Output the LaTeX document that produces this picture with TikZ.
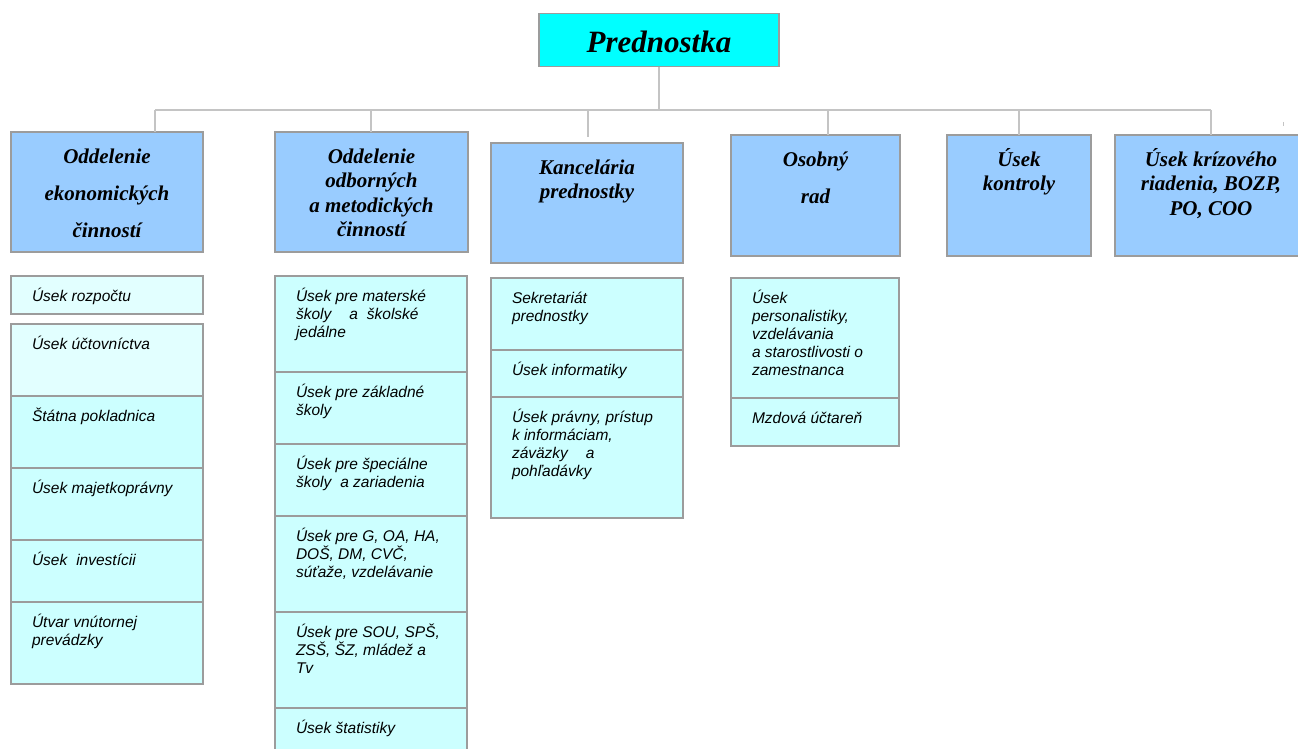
\documentclass[tikz,border=0pt]{standalone}
\usepackage{fontspec}
\setmainfont{Liberation Serif}
\setsansfont{Liberation Sans}

\definecolor{topcyan}{HTML}{00FFFF}
\definecolor{hdrblue}{HTML}{99CCFF}
\definecolor{subcyan}{HTML}{CCFFFF}
\definecolor{palecyan}{HTML}{E2FFFF}
\definecolor{framegray}{HTML}{9C9C9C}
\definecolor{wiregray}{HTML}{C4C4C4}

% box texts: width, height, lines
\newcommand{\hdrtext}[3]{\parbox[t][#2][t]{#1}{\centering\rule{0pt}{31pt}#3}}
\newcommand{\subtext}[3]{\parbox[t][#2][t]{#1}{\raggedright\leftskip=21pt\rule{0pt}{25pt}#3}}

\begin{document}
\begin{tikzpicture}[
		x=1pt,y=-1pt,
		topbox/.style={draw=framegray,fill=topcyan,line width=1.5pt,minimum width=240pt,minimum height=53pt,
			text height=26pt,text depth=0pt,font=\fontsize{31}{36}\selectfont\bfseries\itshape},
		hdr/.style={draw=framegray,fill=hdrblue,line width=1.5pt,inner sep=0pt,outer sep=0pt,anchor=north west,
			font=\fontsize{21}{24.5}\selectfont\bfseries\itshape},
		sub/.style={draw=framegray,fill=subcyan,line width=1.5pt,inner sep=0pt,outer sep=0pt,anchor=north west,
			font=\sffamily\itshape\fontsize{15.5}{18}\selectfont},
		wire/.style={draw=wiregray,line width=2pt},
	]
	\path[use as bounding box,clip] (0,0) rectangle (1298,749);

	\node[topbox] (pred) at (659,40) {Prednostka};

	% departments
	\node[hdr] (oek) at (11,132) {\hdrtext{192pt}{120pt}{Oddelenie\\[12.5pt]ekonomických\\[12.5pt]činností}};
	\node[hdr] (oodb) at (275,132) {\hdrtext{193pt}{120pt}{Oddelenie\\odborných\\a metodických\\činností}};
	\node[hdr] (kanc) at (491,143) {\hdrtext{192pt}{120pt}{Kancelária\\prednostky}};
	\node[hdr] (osob) at (731,135) {\hdrtext{169pt}{121pt}{Osobný\\[12.5pt]rad}};
	\node[hdr] (kontr) at (947,135) {\hdrtext{144pt}{121pt}{Úsek\\kontroly}};
	\node[hdr] (kriz) at (1115,135) {\hdrtext{192pt}{121pt}{Úsek krízového\\riadenia, BOZP,\\PO, COO}};

	% column 1
	\node[sub,fill=palecyan] (rozp) at (11,276) {\subtext{192pt}{38pt}{Úsek rozpočtu}};
	\node[sub,fill=palecyan] (uct) at (11,324) {\subtext{192pt}{72pt}{Úsek účtovníctva}};
	\node[sub] (pokl) at (uct.south west) {\subtext{192pt}{72pt}{Štátna pokladnica}};
	\node[sub] (maj) at (pokl.south west) {\subtext{192pt}{72pt}{Úsek majetkoprávny}};
	\node[sub] (inv) at (maj.south west) {\subtext{192pt}{62pt}{Úsek\hspace{9pt}investícii}};
	\node[sub] (utv) at (inv.south west) {\subtext{192pt}{82pt}{Útvar vnútornej\\prevádzky}};

	% column 2
	\node[sub] (ms) at (275,276) {\subtext{192pt}{96pt}{Úsek pre materské\\školy\hspace{18pt}a\hspace{9pt}školské\\jedálne}};
	\node[sub] (zs) at (ms.south west) {\subtext{192pt}{72pt}{Úsek pre základné\\školy}};
	\node[sub] (ss) at (zs.south west) {\subtext{192pt}{72pt}{Úsek pre špeciálne\\školy\hspace{9pt}a zariadenia}};
	\node[sub] (gym) at (ss.south west) {\subtext{192pt}{96pt}{Úsek pre G, OA, HA,\\DOŠ, DM, CVČ,\\súťaže, vzdelávanie}};
	\node[sub] (sou) at (gym.south west) {\subtext{192pt}{96pt}{Úsek pre SOU, SPŠ,\\ZSŠ, ŠZ, mládež a\\Tv}};
	\node[sub] (stat) at (sou.south west) {\subtext{192pt}{72pt}{Úsek štatistiky}};

	% column 3
	\node[sub] (sekr) at (491,278) {\subtext{192pt}{72pt}{Sekretariát\\prednostky}};
	\node[sub] (info) at (sekr.south west) {\subtext{192pt}{47pt}{Úsek informatiky}};
	\node[sub] (prav) at (info.south west) {\subtext{192pt}{121pt}{Úsek právny, prístup\\k informáciam,\\záväzky\hspace{18pt}a\\pohľadávky}};

	% column 4
	\node[sub] (pers) at (731,278) {\subtext{168pt}{120pt}{Úsek\\personalistiky,\\vzdelávania\\a starostlivosti o\\zamestnanca}};
	\node[sub] (mzd) at (pers.south west) {\subtext{168pt}{48pt}{Mzdová účtareň}};

	% connectors
	\coordinate (bus) at (659,110);
	\coordinate (dropA) at (155,110);
	\coordinate (dropB) at (371,110);
	\coordinate (dropC) at (588,110);
	\coordinate (dropD) at (828,110);
	\coordinate (dropE) at (1019,110);
	\coordinate (dropF) at (1211,110);
	\draw[wire] (pred.south) -- (bus);
	\draw[wire] (dropA) -- (dropF);
	\foreach \d/\b in {A/oek,B/oodb,D/osob,E/kontr,F/kriz}
		\draw[wire] (drop\d) -- (drop\d |- \b.north);
	\draw[wire] (dropC) -- ([yshift=6pt]dropC |- kanc.north);

	\coordinate (tick) at (1283,122);
	\draw[wiregray,line width=1pt] (tick) -- ++(0,4);
\end{tikzpicture}
\end{document}
